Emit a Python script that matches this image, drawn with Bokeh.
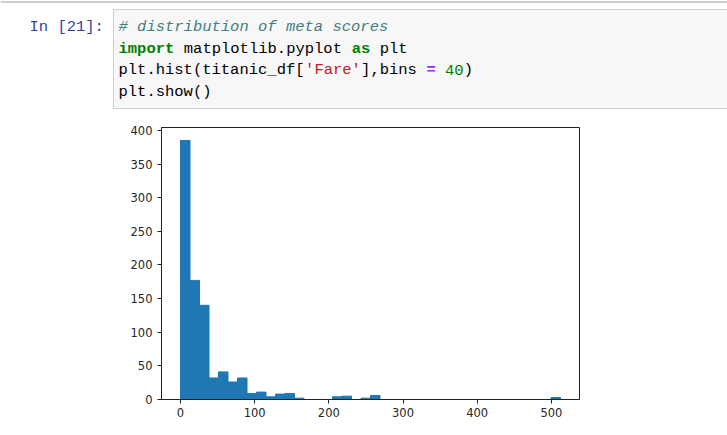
import numpy as np
from bokeh.plotting import figure
from bokeh.models import Range1d, FixedTicker, ColumnDataSource
from bokeh.layouts import column
from bokeh.core.properties import value
from bokeh.embed import file_html
from bokeh.resources import INLINE

# ---------------- content ----------------
prompt_label = "In [21]:"
code_tokens = [
    [("# distribution of meta scores", "comment")],
    [("import", "keyword"), (" matplotlib.pyplot ", "plain"), ("as", "keyword"), (" plt", "plain")],
    [("plt.hist(titanic_df[", "plain"), ("'Fare'", "string"), ("],bins ", "plain"),
     ("=", "operator"), (" ", "plain"), ("40", "number"), (")", "plain")],
    [("plt.show()", "plain")],
]
token_styles = {
    "comment": ("#408080", "italic"),
    "keyword": ("#008000", "bold"),
    "plain": ("#000000", "normal"),
    "string": ("#BA2121", "normal"),
    "operator": ("#AA22FF", "bold"),
    "number": ("#008000", "normal"),
}

# histogram data (Titanic 'Fare', 40 bins)
fare_min = 0.0
fare_max = 512.3292
n_bins = 40
bin_counts = [385, 177, 140, 32, 41, 26, 32, 9, 11, 4,
              8, 9, 2, 0, 0, 0, 4, 5, 0, 2,
              6, 0, 0, 0, 0, 0, 0, 0, 0, 0,
              0, 0, 0, 0, 0, 0, 0, 0, 0, 3]
x_ticks = [0, 100, 200, 300, 400, 500]
y_ticks = [0, 50, 100, 150, 200, 250, 300, 350, 400]

# ---------------- code cell figure (pixel coordinates) ----------------
W, H = 727, 435
CODE_H = 118
MONO = "Liberation Mono"
FONT_PX = "15.5px"
CHAR_W = 9.33
CODE_X = 118
LINE_Y = [26.5, 48.2, 69.8, 91.3]

code = figure(width=W, height=CODE_H, output_backend="svg", toolbar_location=None,
              x_range=Range1d(0, W), y_range=Range1d(CODE_H, 0), min_border=0,
              outline_line_color=None, background_fill_color="white",
              border_fill_color="white")
code.frame_align = False
code.xaxis.visible = False
code.yaxis.visible = False
code.grid.visible = False

# notebook separator line and cell box
code.segment(x0=[0], y0=[1.5], x1=[W], y1=[1.5], line_color="#bdbdbd", line_width=1.5)
code.quad(left=113, right=W + 20, top=9, bottom=108, fill_color="#f7f7f7",
          line_color="#cfcfcf", line_width=1)

code.text(x=[29], y=[LINE_Y[0]], text=[prompt_label], text_font=value(MONO),
          text_font_size=FONT_PX, text_color="#303F9F",
          text_baseline="middle", text_align="left")

groups = {}
for li, tokens in enumerate(code_tokens):
    col = 0
    for tok, kind in tokens:
        stripped = tok.strip()
        if stripped:
            lead = len(tok) - len(tok.lstrip())
            color, style = token_styles[kind]
            g = groups.setdefault((color, style), {"x": [], "y": [], "t": []})
            g["x"].append(CODE_X + (col + lead) * CHAR_W)
            g["y"].append(LINE_Y[li])
            g["t"].append(stripped)
        col += len(tok)

for (color, style), g in groups.items():
    code.text(x=g["x"], y=g["y"], text=g["t"], text_font=value(MONO),
              text_font_size=FONT_PX, text_color=color, text_font_style=style,
              text_baseline="middle", text_align="left")

# ---------------- histogram figure ----------------
FL, FR, FT, FB = 161, 579, 127, 399          # frame edges on the page
edges = np.linspace(fare_min, fare_max, n_bins + 1)
src = ColumnDataSource(dict(left=edges[:-1], right=edges[1:], top=bin_counts))

span = fare_max - fare_min
hist = figure(width=W, height=H - CODE_H, output_backend="svg", toolbar_location=None,
              x_range=Range1d(fare_min - 0.05 * span, fare_max + 0.05 * span),
              y_range=Range1d(0, 1.05 * max(bin_counts)),
              min_border_left=FL, min_border_right=W - FR,
              min_border_top=FT - CODE_H, min_border_bottom=H - FB,
              outline_line_color="#222222", outline_line_width=1,
              background_fill_color="white", border_fill_color="white")
hist.frame_align = False
hist.grid.visible = False
hist.quad(left="left", right="right", top="top", bottom=0, source=src,
          fill_color="#1f77b4", line_color="#1f77b4", line_width=1)

for ax, ticks in ((hist.xaxis, x_ticks), (hist.yaxis, y_ticks)):
    ax.ticker = FixedTicker(ticks=ticks)
    ax.minor_tick_line_color = None
    ax.major_tick_in = 0
    ax.major_tick_out = 4
    ax.major_tick_line_color = "#222222"
    ax.axis_line_color = "#222222"
    ax.major_label_text_font = "DejaVu Sans"
    ax.major_label_text_font_size = "11.5px"
    ax.major_label_text_color = "#262626"
hist.xaxis.major_label_standoff = 4
hist.yaxis.major_label_standoff = 5

layout = column(code, hist, spacing=0)
open("out.html", "w").write(file_html(layout, INLINE))
